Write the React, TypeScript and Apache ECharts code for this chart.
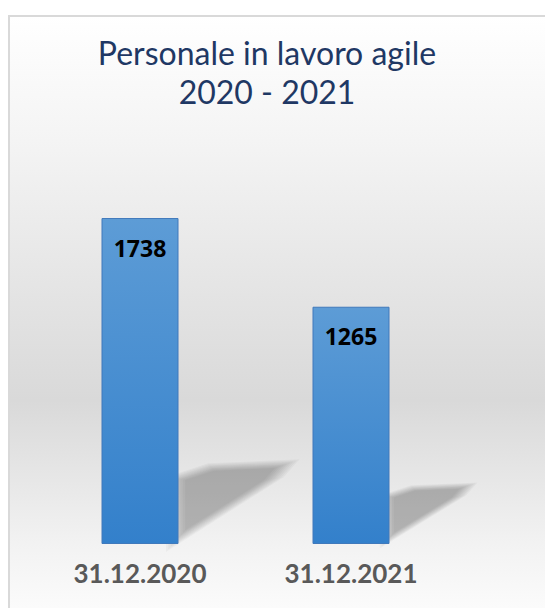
import React, { useEffect, useRef } from "react";
import * as echarts from "echarts";

const categories = ["31.12.2020", "31.12.2021"];
const values = [1738, 1265];
const titleLines = ["Personale in lavoro agile", "2020 - 2021"];

export default function App() {
  const ref = useRef<HTMLDivElement>(null);
  useEffect(() => {
    if (!ref.current) return;
    const chart = echarts.init(ref.current, undefined, { renderer: "svg" });
    const BAR_W = 77;
    chart.setOption({
      animation: false,
      backgroundColor: "#ffffff",
      graphic: [
        {
          type: "rect",
          z: -10,
          silent: true,
          shape: { x: 9, y: 16, width: 560, height: 620 },
          style: {
            stroke: "#d9d9d9",
            lineWidth: 2,
            fill: {
              type: "linear",
              x: 0, y: 0, x2: 0, y2: 1,
              global: false,
              colorStops: [
                { offset: 0, color: "#ffffff" },
                { offset: 0.2, color: "#f4f4f4" },
                { offset: 0.62, color: "#d9d9d9" },
                { offset: 0.85, color: "#f2f2f2" },
                { offset: 1, color: "#ffffff" },
              ],
            },
          },
        },
        {
          type: "text",
          x: 267,
          y: 33,
          style: {
            text: titleLines.join("\n"),
            fontFamily: "Lato",
            fontSize: 32,
            lineHeight: 39,
            fill: "#1f3864",
            align: "center",
            verticalAlign: "top",
          },
        },
      ],
      grid: { left: 34.5, right: 88.5, top: 168.9, bottom: 64 },
      xAxis: {
        type: "category",
        data: categories,
        axisLine: { show: false },
        axisTick: { show: false },
        axisLabel: {
          color: "#595959",
          fontFamily: "Lato",
          fontWeight: "bold",
          fontSize: 26,
          margin: 16,
        },
      },
      yAxis: {
        type: "value",
        min: 0,
        max: 2000,
        show: false,
        splitLine: { show: false },
      },
      series: [
        {
          type: "custom",
          z: 1,
          silent: true,
          data: values.map((v, i) => [i, v]),
          renderItem: (params: any, api: any) => {
            const i = api.value(0);
            const top = api.coord([i, api.value(1)]);
            const base = api.coord([i, 0]);
            const h = base[1] - top[1];
            const xR = base[0] + BAR_W / 2;
            const yB = base[1];
            const pts = [
              [xR - 2, yB - 4],
              [xR - 2, yB - 0.2 * h],
              [xR + 0.1 * h, yB - 0.235 * h],
              [xR + 0.33 * h, yB - 0.245 * h],
              [xR + 0.29 * h, yB - 0.2 * h],
            ];
            const cx = pts.reduce((s, p) => s + p[0], 0) / pts.length;
            const cy = pts.reduce((s, p) => s + p[1], 0) / pts.length;
            const layers = [] as any[];
            const N = 9;
            for (let k = 0; k < N; k++) {
              const sc = 1.22 - k * 0.05;
              layers.push({
                type: "polygon",
                shape: {
                  points: pts.map((p) => [cx + (p[0] - cx) * sc, cy + (p[1] - cy) * sc]),
                },
                style: { fill: "rgba(0,0,0,0.032)" },
              });
            }
            return { type: "group", children: layers };
          },
        },
        {
          type: "bar",
          z: 2,
          data: values,
          barWidth: BAR_W,
          itemStyle: {
            color: {
              type: "linear",
              x: 0, y: 0, x2: 0, y2: 1,
              colorStops: [
                { offset: 0, color: "#5d9cd6" },
                { offset: 1, color: "#3380cb" },
              ],
            },
            borderColor: "#4079bb",
            borderWidth: 1,
          },
          label: {
            show: true,
            position: "insideTop",
            distance: 18,
            color: "#000000",
            fontFamily: "Open Sans",
            fontWeight: "bold",
            fontSize: 23,
          },
        },
      ],
    });
    return () => chart.dispose();
  }, []);
  return (
    <div
      ref={ref}
      style={{ position: "absolute", left: 0, top: 0, width: 545, height: 608 }}
    />
  );
}
